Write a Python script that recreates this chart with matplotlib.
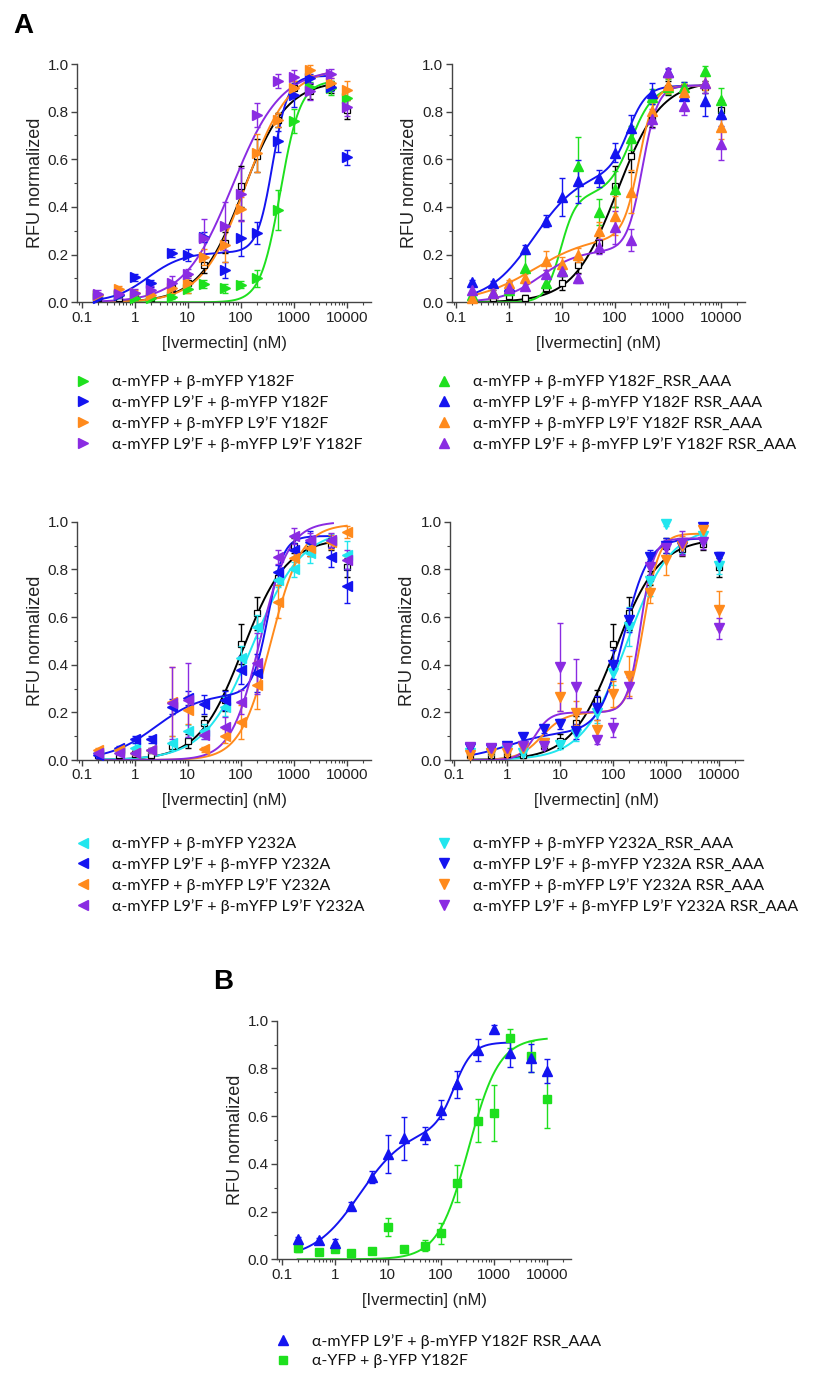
import numpy as np
import matplotlib
matplotlib.use('Agg')
import matplotlib.pyplot as plt
from matplotlib.lines import Line2D
from matplotlib.ticker import FixedLocator, NullFormatter

plt.rcParams['font.family'] = ['Liberation Sans', 'DejaVu Sans']

# ivermectin concentrations (nM)
conc = [0.2, 0.5, 1, 2, 5, 10, 20, 50, 100, 200, 500, 1000, 2000, 5000, 10000]

# reference (black open squares, shown in every panel A)
ref_y = [0.02, 0.02, 0.025, 0.02, 0.06, 0.08, 0.155, 0.25, 0.487, 0.615, 0.765, 0.90, 0.885, 0.905, 0.808]
ref_e = [0.01, 0.01, 0.01, 0.01, 0.015, 0.03, 0.03, 0.045, 0.085, 0.07, 0.03, 0.03, 0.03, 0.025, 0.04]

# panel A, top left (Y182F)
y182_green = [0.03, 0.03, 0.02, 0.02, 0.024, 0.055, 0.077, 0.058, 0.073, 0.10, 0.387, 0.762, 0.905, 0.90, 0.856]
y182_green_e = [0.01, 0.01, 0.01, 0.01, 0.01, 0.015, 0.015, 0.02, 0.015, 0.035, 0.085, 0.05, 0.02, 0.03, 0.04]
y182_blue = [0.02, 0.03, 0.105, 0.08, 0.207, 0.20, 0.275, 0.135, 0.27, 0.29, 0.675, 0.87, 0.94, 0.905, 0.608]
y182_blue_e = [0.01, 0.01, 0.015, 0.015, 0.015, 0.025, 0.02, 0.035, 0.075, 0.045, 0.045, 0.05, 0.02, 0.02, 0.03]
y182_orange = [0.03, 0.055, 0.04, 0.03, 0.06, 0.08, 0.19, 0.24, 0.39, 0.625, 0.765, 0.90, 0.975, 0.92, 0.89]
y182_orange_e = [0.01, 0.015, 0.01, 0.01, 0.02, 0.04, 0.035, 0.07, 0.05, 0.08, 0.03, 0.03, 0.02, 0.02, 0.04]
y182_purple = [0.035, 0.035, 0.04, 0.05, 0.08, 0.12, 0.27, 0.32, 0.453, 0.786, 0.93, 0.945, 0.885, 0.96, 0.82]
y182_purple_e = [0.015, 0.015, 0.015, 0.02, 0.03, 0.02, 0.08, 0.1, 0.11, 0.05, 0.03, 0.03, 0.035, 0.02, 0.04]

# panel A, top right (Y182F RSR_AAA)
y182r_green = [0.03, 0.04, 0.05, 0.143, 0.08, 0.13, 0.57, 0.378, 0.475, 0.69, 0.863, 0.905, 0.905, 0.972, 0.85]
y182r_green_e = [0.01, 0.01, 0.02, 0.06, 0.02, 0.02, 0.125, 0.055, 0.075, 0.05, 0.03, 0.03, 0.02, 0.02, 0.05]
y182r_blue = [0.085, 0.08, 0.07, 0.224, 0.343, 0.443, 0.508, 0.52, 0.627, 0.733, 0.877, 0.965, 0.866, 0.843, 0.79]
y182r_blue_e = [0.01, 0.01, 0.015, 0.015, 0.025, 0.08, 0.09, 0.035, 0.04, 0.055, 0.045, 0.015, 0.06, 0.06, 0.05]
y182r_orange = [0.02, 0.04, 0.08, 0.10, 0.175, 0.16, 0.198, 0.30, 0.364, 0.464, 0.804, 0.91, 0.884, 0.92, 0.734]
y182r_orange_e = [0.01, 0.01, 0.015, 0.02, 0.04, 0.03, 0.03, 0.035, 0.08, 0.09, 0.04, 0.03, 0.03, 0.03, 0.05]
y182r_purple = [0.05, 0.04, 0.06, 0.07, 0.12, 0.13, 0.10, 0.234, 0.315, 0.262, 0.77, 0.965, 0.825, 0.92, 0.664]
y182r_purple_e = [0.02, 0.01, 0.015, 0.015, 0.015, 0.02, 0.02, 0.03, 0.07, 0.045, 0.04, 0.02, 0.04, 0.04, 0.065]

# panel A, bottom left (Y232A)
y232_cyan = [0.03, 0.04, 0.05, 0.04, 0.07, 0.12, 0.12, 0.224, 0.43, 0.56, 0.755, 0.80, 0.867, 0.92, 0.86]
y232_cyan_e = [0.01, 0.01, 0.02, 0.01, 0.03, 0.025, 0.03, 0.04, 0.05, 0.05, 0.03, 0.03, 0.04, 0.03, 0.06]
y232_blue = [0.02, 0.05, 0.087, 0.087, 0.224, 0.26, 0.234, 0.25, 0.378, 0.364, 0.79, 0.88, 0.916, 0.85, 0.73]
y232_blue_e = [0.01, 0.01, 0.015, 0.015, 0.03, 0.03, 0.04, 0.04, 0.06, 0.08, 0.03, 0.03, 0.045, 0.04, 0.07]
y232_orange = [0.04, 0.04, 0.03, 0.04, 0.245, 0.21, 0.045, 0.10, 0.16, 0.315, 0.664, 0.846, 0.888, 0.916, 0.958]
y232_orange_e = [0.01, 0.01, 0.01, 0.01, 0.145, 0.06, 0.01, 0.03, 0.07, 0.1, 0.07, 0.04, 0.03, 0.03, 0.025]
y232_purple = [0.03, 0.03, 0.03, 0.04, 0.24, 0.25, 0.107, 0.14, 0.245, 0.405, 0.853, 0.94, 0.923, 0.923, 0.84]
y232_purple_e = [0.01, 0.01, 0.01, 0.01, 0.15, 0.155, 0.02, 0.04, 0.05, 0.13, 0.03, 0.035, 0.03, 0.03, 0.04]

# panel A, bottom right (Y232A RSR_AAA)
y232r_cyan = [0.03, 0.03, 0.04, 0.03, 0.07, 0.063, 0.11, 0.196, 0.364, 0.56, 0.75, 0.99, 0.90, 0.94, 0.815]
y232r_cyan_e = [0.01, 0.01, 0.01, 0.01, 0.015, 0.015, 0.03, 0.04, 0.05, 0.08, 0.06, 0.01, 0.03, 0.03, 0.035]
y232r_blue = [0.05, 0.045, 0.06, 0.095, 0.13, 0.15, 0.12, 0.217, 0.40, 0.587, 0.853, 0.90, 0.895, 0.976, 0.853]
y232r_blue_e = [0.01, 0.01, 0.01, 0.015, 0.015, 0.02, 0.03, 0.05, 0.06, 0.05, 0.03, 0.03, 0.03, 0.015, 0.02]
y232r_orange = [0.02, 0.03, 0.03, 0.05, 0.07, 0.265, 0.196, 0.126, 0.277, 0.352, 0.70, 0.84, 0.90, 0.965, 0.63]
y232r_orange_e = [0.01, 0.01, 0.01, 0.01, 0.015, 0.06, 0.05, 0.04, 0.055, 0.085, 0.04, 0.065, 0.04, 0.025, 0.08]
y232r_purple = [0.055, 0.05, 0.05, 0.06, 0.06, 0.392, 0.308, 0.084, 0.136, 0.305, 0.81, 0.888, 0.91, 0.916, 0.552]
y232r_purple_e = [0.01, 0.01, 0.01, 0.015, 0.015, 0.185, 0.115, 0.015, 0.04, 0.045, 0.035, 0.035, 0.05, 0.03, 0.045]

# panel B (wild-type YFP, Y182F)
yfp_green = [0.046, 0.032, 0.042, 0.028, 0.036, 0.137, 0.042, 0.057, 0.109, 0.318, 0.58, 0.612, 0.926, 0.85, 0.67]
yfp_green_e = [0.015, 0.005, 0.01, 0.005, 0.005, 0.038, 0.005, 0.022, 0.045, 0.077, 0.09, 0.118, 0.04, 0.065, 0.12]

# fitted dose-response lines: [amp1, ec50_1, hill1, amp2, ec50_2, hill2, x_end]
fit_ref = [0, 1, 1, 0.93, 110, 1.05, 5000]
fit_y182 = [[0, 1, 1, 0.93, 560, 2.3, 5000],
            [0.21, 1.8, 1.3, 0.74, 400, 3.0, 5000],
            [0, 1, 1, 0.985, 125, 1.05, 5000],
            [0, 1, 1, 0.98, 70, 0.95, 5000]]
fit_y182r = [[0.45, 9.5, 3.0, 0.46, 200, 2.0, 5000],
             [0.55, 3.0, 1.0, 0.36, 180, 2.5, 5000],
             [0.28, 3.0, 0.8, 0.63, 280, 3.0, 5000],
             [0.22, 4.0, 1.2, 0.69, 330, 3.0, 5000]]
fit_y232 = [[0, 1, 1, 0.97, 170, 0.95, 5000],
            [0.28, 2.5, 1.0, 0.66, 330, 3.0, 5000],
            [0, 1, 1, 0.99, 370, 1.5, 10000],
            [0, 1, 1, 1.0, 230, 1.6, 5500]]
fit_y232r = [[0, 1, 1, 0.98, 180, 1.05, 5000],
             [0.12, 1.0, 1.0, 0.81, 160, 1.9, 5000],
             [0.2, 4.5, 2.0, 0.75, 380, 3.0, 5000],
             [0.2, 3.3, 3.0, 0.73, 330, 3.5, 5000]]
fit_b_blue = [0.55, 3.0, 1.0, 0.36, 180, 2.5, 2000]
fit_b_green = [0, 1, 1, 0.93, 335, 1.5, 10000]

labels_y182 = ['α-mYFP + β-mYFP Y182F', 'α-mYFP L9’F + β-mYFP Y182F',
               'α-mYFP + β-mYFP L9’F Y182F', 'α-mYFP L9’F + β-mYFP L9’F Y182F']
labels_y182r = ['α-mYFP + β-mYFP Y182F_RSR_AAA', 'α-mYFP L9’F + β-mYFP Y182F RSR_AAA',
                'α-mYFP + β-mYFP L9’F Y182F RSR_AAA', 'α-mYFP L9’F + β-mYFP L9’F Y182F RSR_AAA']
labels_y232 = ['α-mYFP + β-mYFP Y232A', 'α-mYFP L9’F + β-mYFP Y232A',
               'α-mYFP + β-mYFP L9’F Y232A', 'α-mYFP L9’F + β-mYFP L9’F Y232A']
labels_y232r = ['α-mYFP + β-mYFP Y232A_RSR_AAA', 'α-mYFP L9’F + β-mYFP Y232A RSR_AAA',
                'α-mYFP + β-mYFP L9’F Y232A RSR_AAA', 'α-mYFP L9’F + β-mYFP L9’F Y232A RSR_AAA']
labels_b = ['α-mYFP L9’F + β-mYFP Y182F RSR_AAA', 'α-YFP + β-YFP Y182F']

GREEN = '#1EE01E'
BLUE = '#1414F0'
ORANGE = '#FF8A1C'
PURPLE = '#8A2BE2'
CYAN = '#22E6EE'

W, H = 813, 1373
fig = plt.figure(figsize=(W / 100, H / 100), dpi=100)


def px_axes(left, top, right, bottom):
    return fig.add_axes([left / W, 1 - bottom / H, (right - left) / W, (bottom - top) / H])


def fit_curve(p):
    xs = np.logspace(np.log10(0.2), np.log10(p[6]), 300)
    ys = p[0] * xs**p[2] / (p[1]**p[2] + xs**p[2]) + p[3] * xs**p[5] / (p[4]**p[5] + xs**p[5])
    return xs, ys


def style_axes(ax):
    ax.set_xscale('log')
    ax.set_xlim(0.0826, 28700)
    ax.set_ylim(0, 1.0)
    ax.spines['top'].set_visible(False)
    ax.spines['right'].set_visible(False)
    for s in ['left', 'bottom']:
        ax.spines[s].set_color('#444444')
        ax.spines[s].set_linewidth(1.0)
    ax.set_xticks([0.1, 1, 10, 100, 1000, 10000])
    ax.set_xticklabels(['0.1', '1', '10', '100', '1000', '10000'])
    minors = [m * 10.0**d for d in range(-2, 5) for m in range(2, 10)]
    ax.xaxis.set_minor_locator(FixedLocator(minors))
    ax.xaxis.set_minor_formatter(NullFormatter())
    ax.set_yticks([0, 0.2, 0.4, 0.6, 0.8, 1.0])
    ax.set_yticklabels(['0.0', '0.2', '0.4', '0.6', '0.8', '1.0'])
    ax.set_yticks([0.1, 0.3, 0.5, 0.7, 0.9], minor=True)
    ax.tick_params(which='major', direction='out', length=4, width=1, color='#444444',
                   labelsize=11, labelcolor='#222222', pad=2)
    ax.tick_params(which='minor', direction='out', length=2.5, width=0.8, color='#444444')
    ax.set_xlabel('[Ivermectin] (nM)', fontsize=12, color='#222222', labelpad=8)
    ax.set_ylabel('RFU normalized', fontsize=13, color='#222222', labelpad=3)
    ax.patch.set_alpha(0)


def draw_series(ax, ys, es, fit, color, marker, size=6.5):
    fx, fy = fit_curve(fit)
    ax.plot(fx, fy, color=color, lw=1.4, zorder=2)
    ax.errorbar(conc, ys, yerr=es, fmt='none', ecolor=color, elinewidth=1, capsize=2.5,
                capthick=1, zorder=3, clip_on=False)
    h, = ax.plot(conc, ys, ls='none', marker=marker, ms=size, color=color, mec=color,
                 zorder=4, clip_on=False)
    return h


def draw_ref(ax):
    fx, fy = fit_curve(fit_ref)
    ax.plot(fx, fy, color='black', lw=1.4, zorder=2)
    ax.errorbar(conc, ref_y, yerr=ref_e, fmt='none', ecolor='black', elinewidth=1,
                capsize=2.5, capthick=1, zorder=2.5, clip_on=False)
    ax.plot(conc, ref_y, ls='none', marker='s', ms=5, mfc='white', mec='black', mew=0.9,
            zorder=2.6, clip_on=False)


def add_legend(handles, labels, x, y, spacing=0.37):
    leg = fig.legend(handles, labels, loc='upper left', bbox_to_anchor=(x / W, 1 - y / H),
                     frameon=False, handlelength=1.0, handletextpad=1.3, labelspacing=spacing,
                     borderpad=0, borderaxespad=0,
                     prop={'family': ['Lato', 'DejaVu Sans'], 'size': 11.5})
    for t in leg.get_texts():
        t.set_color('#111111')
    return leg


colors4 = [GREEN, BLUE, ORANGE, PURPLE]
colors4b = [CYAN, BLUE, ORANGE, PURPLE]

panels = [
    ((77.3, 64, 371, 302.3), '>', colors4, [y182_green, y182_blue, y182_orange, y182_purple],
     [y182_green_e, y182_blue_e, y182_orange_e, y182_purple_e], fit_y182, labels_y182, (75, 375)),
    ((451.7, 64, 745, 302.3), '^', colors4, [y182r_green, y182r_blue, y182r_orange, y182r_purple],
     [y182r_green_e, y182r_blue_e, y182r_orange_e, y182r_purple_e], fit_y182r, labels_y182r, (436, 375)),
    ((77.3, 521.7, 371, 760), '<', colors4b, [y232_cyan, y232_blue, y232_orange, y232_purple],
     [y232_cyan_e, y232_blue_e, y232_orange_e, y232_purple_e], fit_y232, labels_y232, (75, 837)),
    ((450, 521.7, 743.3, 760), 'v', colors4b, [y232r_cyan, y232r_blue, y232r_orange, y232r_purple],
     [y232r_cyan_e, y232r_blue_e, y232r_orange_e, y232r_purple_e], fit_y232r, labels_y232r, (436, 837)),
]

for box, marker, cols, ydata, edata, fits, labels, legpos in panels:
    ax = px_axes(*box)
    style_axes(ax)
    draw_ref(ax)
    handles = []
    for ys, es, fit, col in zip(ydata, edata, fits, cols):
        draw_series(ax, ys, es, fit, col, marker)
        handles.append(Line2D([], [], ls='none', marker=marker, ms=6.5, color=col))
    add_legend(handles, labels, *legpos)

# panel B
axb = px_axes(277.3, 1020.7, 571, 1259.3)
style_axes(axb)
draw_series(axb, yfp_green, yfp_green_e, fit_b_green, GREEN, 's', size=5.5)
draw_series(axb, y182r_blue, y182r_blue_e, fit_b_blue, BLUE, '^')
hb = [Line2D([], [], ls='none', marker='^', ms=6.5, color=BLUE),
      Line2D([], [], ls='none', marker='s', ms=6, color=GREEN)]
add_legend(hb, labels_b, 275, 1334, spacing=0.32)

fig.text(13 / W, 1 - 33 / H, 'A', fontsize=20, fontweight='bold', ha='left', va='baseline')
fig.text(213 / W, 1 - 989 / H, 'B', fontsize=20, fontweight='bold', ha='left', va='baseline')

fig.savefig('out.png', dpi=100)
